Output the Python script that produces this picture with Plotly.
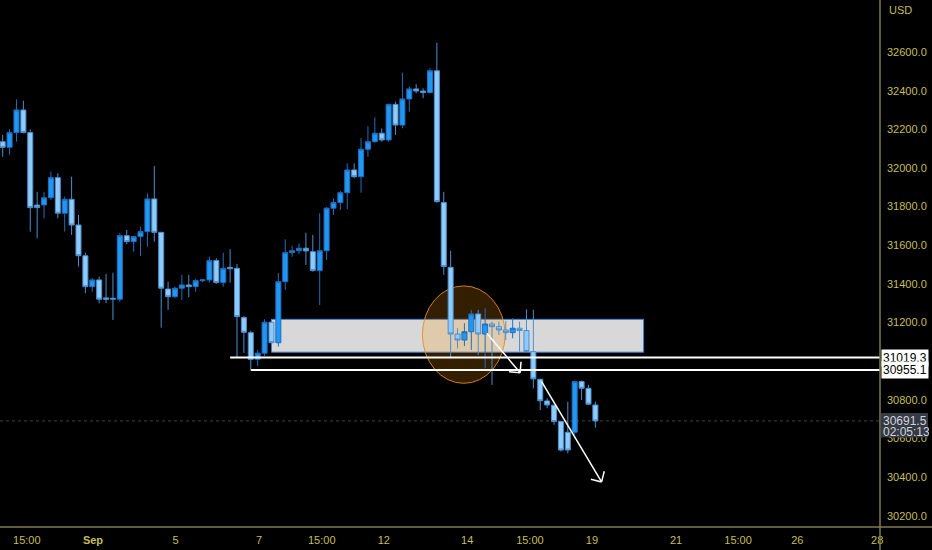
import math
import plotly.graph_objects as go

# ---------------- data ----------------
opens = [32136, 32107, 32183, 32300, 32183, 31808, 31809, 31846, 31950, 31766,
         31838, 31705, 31546, 31386, 31421, 31328, 31326, 31321, 31650, 31619,
         31645, 31671, 31840, 31667, 31374, 31334, 31378, 31395, 31386, 31417,
         31421, 31521, 31407, 31486, 31481, 31226, 31148, 31010, 31042, 31202,
         31096, 31412, 31562, 31572, 31585, 31567, 31469, 31572, 31792, 31821,
         31872, 31990, 31955, 32097, 32136, 32180, 32145, 32329, 32222, 32357,
         32409, 32398, 32390, 32503, 31821, 31486, 31141, 31110, 31153, 31245,
         31141, 31193, 31179, 31162, 31148, 31171, 31159, 31050, 30907, 30795,
         30773, 30688, 30633, 30633, 30895, 30860, 30774]
highs = [32171, 32200, 32355, 32348, 32200, 31877, 31877, 31981, 31973, 31852,
         31955, 31757, 31562, 31430, 31438, 31452, 31458, 31662, 31679, 31648,
         31696, 31869, 32010, 31670, 31412, 31386, 31447, 31447, 31426, 31425,
         31541, 31533, 31562, 31580, 31503, 31235, 31158, 31059, 31217, 31219,
         31457, 31631, 31597, 31610, 31665, 31654, 31766, 31798, 31843, 31881,
         32024, 32024, 32154, 32217, 32262, 32205, 32333, 32343, 32493, 32421,
         32433, 32412, 32516, 32648, 31877, 31572, 31171, 31197, 31266, 31266,
         31274, 31205, 31205, 31209, 31223, 31205, 31269, 31266, 30909, 30809,
         30776, 30690, 30791, 30900, 30900, 30878, 30791]
lows = [32058, 32067, 32136, 32180, 31671, 31636, 31740, 31834, 31740, 31671,
        31654, 31490, 31352, 31360, 31300, 31300, 31214, 31308, 31605, 31567,
        31546, 31593, 31619, 31174, 31266, 31326, 31317, 31331, 31360, 31410,
        31407, 31400, 31386, 31407, 31020, 31043, 30956, 30976, 31028, 31093,
        31076, 31369, 31541, 31555, 31498, 31464, 31291, 31524, 31757, 31783,
        31788, 31947, 31872, 32058, 32130, 32136, 32136, 32171, 32205, 32291,
        32386, 32361, 32386, 31820, 31447, 31016, 31067, 31079, 31059, 31033,
        30964, 30878, 31136, 31110, 31119, 31050, 31048, 30860, 30748, 30757,
        30671, 30533, 30524, 30620, 30800, 30774, 30657]
closes = [32107, 32183, 32300, 32183, 31795, 31795, 31846, 31950, 31766, 31838,
          31705, 31546, 31386, 31421, 31321, 31321, 31322, 31650, 31619, 31645,
          31671, 31840, 31667, 31378, 31334, 31378, 31395, 31386, 31417, 31421,
          31521, 31407, 31481, 31479, 31231, 31150, 31010, 31042, 31202, 31096,
          31412, 31562, 31572, 31585, 31571, 31469, 31572, 31792, 31821, 31872,
          31990, 31955, 32097, 32136, 32180, 32145, 32329, 32222, 32357, 32409,
          32398, 32390, 32503, 31826, 31490, 31141, 31110, 31153, 31245, 31141,
          31193, 31179, 31162, 31148, 31171, 31159, 31050, 30909, 30796, 30774,
          30688, 30541, 30541, 30895, 30860, 30778, 30691.5]

x_tick_pos = [3.5, 13.1, 25.1, 37.2, 46.3, 55.3, 67.4, 76.5, 85.5, 97.7, 106.7, 115.3, 126.9]
x_tick_text = ["15:00", "<b>Sep</b>", "5", "7", "15:00", "12", "14", "15:00", "19", "21", "15:00", "26", "28"]
y_tick_show = [30200, 30400, 30600, 30800, 31200, 31400, 31600, 31800, 32000, 32200, 32400, 32600]

# drawings (in data units: candle index / price)
level_prices = [31019.3, 30955.1]
level_start = [33.0, 36.0]
zone_x = [39.0, 93.0]
zone_y = [31047, 31217]
ellipse_x = [60.9, 72.9]
ellipse_y = [30886, 31390]
arrows = [((70.25, 31145), (75.08, 30941)), ((78.2, 30895), (86.9, 30376))]
last_price = 30691.5
countdown = "02:05:13"

# ---------------- layout geometry ----------------
W, H = 932, 550
ML, MR, MT, MB = 0, 52, 0, 23
PW, PH = W - ML - MR, H - MT - MB
x_range = [-0.39, 127.3]
y_range = [30142.7, 32869.0]
sx = PW / (x_range[1] - x_range[0])
sy = PH / (y_range[1] - y_range[0])

AX = "#C3BE5A"
AXLINE = "#7E7C4A"
FONT = "Liberation Sans, Arial, sans-serif"

fig = go.Figure()
fig.add_trace(go.Candlestick(
    x=list(range(len(opens))), open=opens, high=highs, low=lows, close=closes,
    increasing=dict(fillcolor="#2196F3", line=dict(color="#1F6FBF", width=1)),
    decreasing=dict(fillcolor="#90CAF9", line=dict(color="#4A8FD0", width=1)),
    whiskerwidth=0, showlegend=False, hoverinfo="skip",
))

shapes = []
shapes.append(dict(type="rect", xref="x", yref="y", x0=zone_x[0], x1=zone_x[1], y0=zone_y[0], y1=zone_y[1],
                   fillcolor="#D8D8D8", line=dict(color="#3D7FD6", width=1), layer="below"))
shapes.append(dict(type="circle", xref="x", yref="y", x0=ellipse_x[0], x1=ellipse_x[1],
                   y0=ellipse_y[0], y1=ellipse_y[1], fillcolor="rgba(255,152,0,0.2)",
                   line=dict(color="rgba(230,140,30,0.9)", width=1), layer="below"))
shapes.append(dict(type="line", xref="paper", yref="y", x0=0, x1=1, y0=last_price, y1=last_price,
                   line=dict(color="rgba(110,110,110,0.6)", width=1, dash="dot"), layer="below"))
for p, xs in zip(level_prices, level_start):
    shapes.append(dict(type="line", xref="x", yref="y", x0=xs, x1=x_range[1], y0=p, y1=p,
                       line=dict(color="white", width=2), layer="above"))
for (xs, ys), (xt, yt) in arrows:
    shapes.append(dict(type="line", xref="x", yref="y", x0=xs, y0=ys, x1=xt, y1=yt,
                       line=dict(color="white", width=1.5), layer="above"))
    dx = (xt - xs) * sx
    dy = -(yt - ys) * sy
    ang = math.atan2(dy, dx)
    L = 11
    for a in (math.radians(45), -math.radians(45)):
        hx = -L * math.cos(ang + a)
        hy = -L * math.sin(ang + a)
        shapes.append(dict(type="line", xref="x", yref="y", x0=xt, y0=yt,
                           x1=xt + hx / sx, y1=yt - hy / sy,
                           line=dict(color="white", width=1.5), layer="above"))
shapes.append(dict(type="line", xref="paper", yref="paper", x0=0, x1=W / PW, y0=0, y1=0,
                   line=dict(color=AXLINE, width=1.5), layer="above"))
shapes.append(dict(type="line", xref="paper", yref="paper", x0=1, x1=1, y0=-MB / PH, y1=1,
                   line=dict(color=AXLINE, width=1.5), layer="above"))
shapes.append(dict(type="rect", xref="paper", yref="y", x0=1.001, x1=928 / PW,
                   y0=last_price - 16.5 / sy, y1=last_price + 8 / sy,
                   fillcolor="#363A45", line=dict(width=0), layer="above"))

annotations = []
for p in level_prices:
    annotations.append(dict(xref="paper", yref="y", x=1.001, y=p, xanchor="left", yanchor="middle",
                            text=f"{p:.1f}", showarrow=False, bgcolor="white", borderpad=1,
                            font=dict(family=FONT, size=12, color="black"), width=44, align="left"))
annotations.append(dict(xref="paper", yref="y", x=1.001, y=last_price, xanchor="left", yanchor="middle",
                        text=f"{last_price:.1f}", showarrow=False, width=46, align="left",
                        font=dict(family=FONT, size=12, color="#D1D4DC")))
annotations.append(dict(xref="paper", yref="y", x=1.001, y=last_price, yshift=-11, xanchor="left",
                        yanchor="middle", text=countdown, showarrow=False, width=46, align="left",
                        font=dict(family=FONT, size=12, color="#D1D4DC")))
annotations.append(dict(xref="paper", yref="paper", x=887 / PW, y=(PH - 10) / PH, xanchor="left",
                        yanchor="middle", text="USD", showarrow=False,
                        font=dict(family=FONT, size=11, color=AX)))

fig.update_layout(
    width=W, height=H, margin=dict(l=ML, r=MR, t=MT, b=MB, autoexpand=False),
    paper_bgcolor="black", plot_bgcolor="black",
    showlegend=False, shapes=shapes, annotations=annotations,
    boxgap=0.27, boxgroupgap=0,
    font=dict(family=FONT, color=AX),
    xaxis=dict(range=x_range, showgrid=False, zeroline=False, showline=False,
               tickmode="array", tickvals=x_tick_pos, ticktext=x_tick_text, ticks="",
               ticklabelstandoff=5,
               tickfont=dict(family=FONT, size=11, color=AX), rangeslider=dict(visible=False),
               fixedrange=True),
    yaxis=dict(range=y_range, side="right", showgrid=False, zeroline=False, showline=False,
               tickmode="array", tickvals=y_tick_show, ticktext=[f"{v:.1f}" for v in y_tick_show],
               ticks="", ticklabelstandoff=6, tickfont=dict(family=FONT, size=11, color=AX),
               fixedrange=True),
)

fig.write_html("out.html", config={"displayModeBar": False},
               post_script="document.body.style.margin='0';document.body.style.overflow='hidden';")
